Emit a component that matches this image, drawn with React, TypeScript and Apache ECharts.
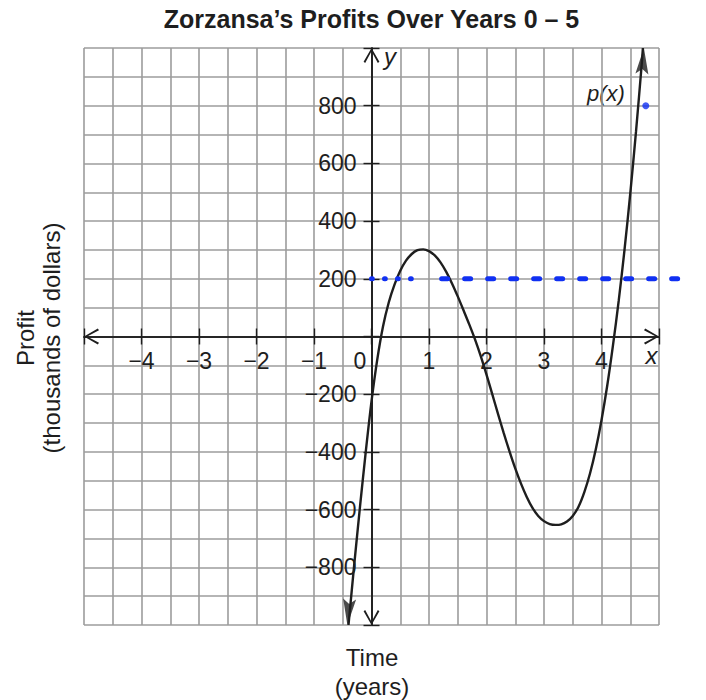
import React, { useEffect, useRef } from 'react';
import * as echarts from 'echarts';

// ---- data ----
const curveX = [-0.4, -0.3, -0.2, -0.1, 0, 0.1, 0.2, 0.3, 0.4, 0.5, 0.6, 0.7, 0.8, 0.9, 1.0, 1.1, 1.2, 1.3, 1.4, 1.5, 1.6, 1.7, 1.8, 1.9, 2.0, 2.1, 2.2, 2.3, 2.4, 2.5, 2.6, 2.7, 2.8, 2.9, 3.0, 3.1, 3.2, 3.3, 3.4, 3.5, 3.6, 3.7, 3.8, 3.9, 4.0, 4.1, 4.2, 4.3, 4.4, 4.5, 4.6, 4.7, 4.72];
const curveY = [-1000, -790, -590, -400, -225, -80, 35, 118, 180, 228, 263, 286, 299, 302, 296, 281, 257, 224, 184, 139, 91, 42, -10, -68, -132, -200, -268, -335, -398, -457, -510, -556, -594, -622, -640, -650, -653, -651, -641, -622, -590, -540, -475, -392, -290, -170, -30, 125, 300, 495, 710, 945, 1000];
const arrowX = [-0.4, 4.72];
const arrowY = [-1000, 1000];
const arrowRotate = [175, -4.4];
const arrowShift = [-13, 13];
const refLevel = 200;
// [start x, end x] of the blue reference line pieces: dotted part, dashed part
const refStartX = [0, 1.22];
const refEndX = [0.9, 5.58];
const pointX = [4.77];
const pointY = [800];
const xLabelValues = [-4, -3, -2, -1, 1, 2, 3, 4];
const yLabelValues = [-800, -600, -400, -200, 200, 400, 600, 800];

const FONT = "'Liberation Sans', Arial, Helvetica, sans-serif";
const INK = '#1e1e1e';
const GRID = '#9c9c9c';
const BLUE = '#1030f2';
const CHEV = 'path://M8,0 L16,14 L14.4,15.2 L8,3.2 L1.6,15.2 L0,14 Z';
const HEAD = 'path://M6,0 L12,26 L6,21 L0,26 Z';
const DASHES = [[0.8, 12.2], [6, 17]];

const GRID_L = 84, GRID_R = 47, GRID_T = 48, GRID_B = 75;
const W = 706, H = 700;
// shift the axes from the grid border onto the zero lines
const X_OFF = -((H - GRID_T - GRID_B) / 2);
const Y_OFF = -((W - GRID_L - GRID_R) / 2);

const fmtNum = (v: number) => (v < 0 ? '\u2212' + Math.abs(v) : String(v));

export default function App() {
  const ref = useRef<HTMLDivElement>(null);
  useEffect(() => {
    if (!ref.current) return;
    const chart = echarts.init(ref.current, null, { renderer: 'svg' });
    const axisLineStyle = { color: INK, width: 1.6 };
    const tickStyle = { color: INK, width: 1.4 };
    const option: any = {
      animation: false,
      backgroundColor: '#ffffff',
      grid: { left: GRID_L, right: GRID_R, top: GRID_T, bottom: GRID_B },
      xAxis: [
        {
          type: 'value', min: -5, max: 5, interval: 1, position: 'bottom', offset: X_OFF,
          axisLine: { show: true, onZero: false, lineStyle: axisLineStyle, symbol: [CHEV, CHEV], symbolSize: [16, 15], symbolOffset: [7.5, -7.5] },
          axisTick: { show: true, length: 8, lineStyle: tickStyle },
          axisLabel: {
            show: true, margin: 13, fontSize: 23, fontFamily: FONT, color: INK,
            formatter: (v: number) => (v === 0 ? '{z|0}' : xLabelValues.includes(v) ? fmtNum(v) : ''),
            rich: { z: { padding: [0, 23, 0, 0], fontSize: 23, fontFamily: FONT, color: INK } },
          },
          splitLine: { show: true, lineStyle: { color: GRID, width: 1.6 } },
          minorTick: { show: false, splitNumber: 2 },
          minorSplitLine: { show: true, lineStyle: { color: GRID, width: 1.6 } },
        },
        {
          type: 'value', min: -5, max: 5, interval: 1, position: 'top', offset: X_OFF,
          axisLine: { show: true, onZero: false, lineStyle: axisLineStyle },
          axisTick: { show: true, length: 8, lineStyle: tickStyle },
          axisLabel: { show: false },
          splitLine: { show: false },
        },
      ],
      yAxis: [
        {
          type: 'value', min: -1000, max: 1000, interval: 200, position: 'left', offset: Y_OFF,
          axisLine: { show: true, onZero: false, lineStyle: axisLineStyle, symbol: [CHEV, CHEV], symbolSize: [16, 15], symbolOffset: [7.5, -7.5] },
          axisTick: { show: true, length: 8, lineStyle: tickStyle },
          axisLabel: {
            show: true, margin: 15, fontSize: 23, fontFamily: FONT, color: INK,
            formatter: (v: number) => (yLabelValues.includes(v) ? fmtNum(v) : ''),
          },
          splitLine: { show: true, lineStyle: { color: GRID, width: 1.6 } },
          minorTick: { show: false, splitNumber: 2 },
          minorSplitLine: { show: true, lineStyle: { color: GRID, width: 1.6 } },
        },
        {
          type: 'value', min: -1000, max: 1000, interval: 200, position: 'right', offset: Y_OFF,
          axisLine: { show: true, onZero: false, lineStyle: axisLineStyle },
          axisTick: { show: true, length: 8, lineStyle: tickStyle },
          axisLabel: { show: false },
          splitLine: { show: false },
        },
      ],
      series: [
        {
          type: 'line', xAxisIndex: 0, yAxisIndex: 0, smooth: 0.3, showSymbol: false, clip: false, z: 4,
          data: curveX.map((x, i) => [x, curveY[i]]),
          lineStyle: { color: INK, width: 2.4 },
        },
        {
          type: 'scatter', xAxisIndex: 0, yAxisIndex: 0, clip: false, z: 5,
          symbol: HEAD, symbolSize: [13, 26],
          itemStyle: { color: INK },
          data: arrowX.map((x, i) => ({ value: [x, arrowY[i]], symbolRotate: arrowRotate[i], symbolOffset: [0, arrowShift[i]] })),
        },
        {
          type: 'custom', xAxisIndex: 0, yAxisIndex: 0, z: 6,
          data: refStartX.map((x, i) => [x, refEndX[i], refLevel, i]),
          renderItem: (_params: any, api: any) => {
            const p0 = api.coord([api.value(0), api.value(2)]);
            const p1 = api.coord([api.value(1), api.value(2)]);
            const dash = DASHES[api.value(3)];
            return {
              type: 'line',
              shape: { x1: p0[0], y1: p0[1], x2: p1[0], y2: p1[1] },
              style: { stroke: BLUE, lineWidth: 5, lineDash: dash, lineCap: 'round', fill: null },
            };
          },
        },
        {
          type: 'scatter', xAxisIndex: 0, yAxisIndex: 0, clip: false, z: 6,
          symbol: 'circle', symbolSize: 7, itemStyle: { color: BLUE },
          data: pointX.map((x, i) => [x, pointY[i]]),
        },
      ],
      graphic: [
        { type: 'text', x: 371.5, y: 19, style: { text: 'Zorzansa\u2019s Profits Over Years 0 \u2013 5', fontSize: 25, fontWeight: 'bold', fontFamily: FONT, fill: INK, align: 'center', verticalAlign: 'middle' } },
        { type: 'text', x: 25, y: 338, rotation: Math.PI / 2, style: { text: 'Profit', fontSize: 24, fontFamily: FONT, fill: INK, align: 'center', verticalAlign: 'middle' } },
        { type: 'text', x: 51, y: 338, rotation: Math.PI / 2, style: { text: '(thousands of dollars)', fontSize: 24, fontFamily: FONT, fill: INK, align: 'center', verticalAlign: 'middle' } },
        { type: 'text', x: 372, y: 657, style: { text: 'Time', fontSize: 24, fontFamily: FONT, fill: INK, align: 'center', verticalAlign: 'middle' } },
        { type: 'text', x: 372, y: 686, style: { text: '(years)', fontSize: 24, fontFamily: FONT, fill: INK, align: 'center', verticalAlign: 'middle' } },
        { type: 'text', x: 651.5, y: 355, style: { text: 'x', fontSize: 24, fontStyle: 'italic', fontFamily: FONT, fill: INK, align: 'center', verticalAlign: 'middle' } },
        { type: 'text', x: 390, y: 56, style: { text: 'y', fontSize: 24, fontStyle: 'italic', fontFamily: FONT, fill: INK, align: 'center', verticalAlign: 'middle' } },
        { type: 'text', x: 606, y: 93, style: { text: 'p(x)', fontSize: 22, fontStyle: 'italic', fontFamily: FONT, fill: INK, align: 'center', verticalAlign: 'middle' } },
      ],
    };
    chart.setOption(option);
    return () => chart.dispose();
  }, []);
  return <div ref={ref} style={{ position: 'fixed', left: 0, top: 0, width: W, height: H, background: '#fff' }} />;
}
